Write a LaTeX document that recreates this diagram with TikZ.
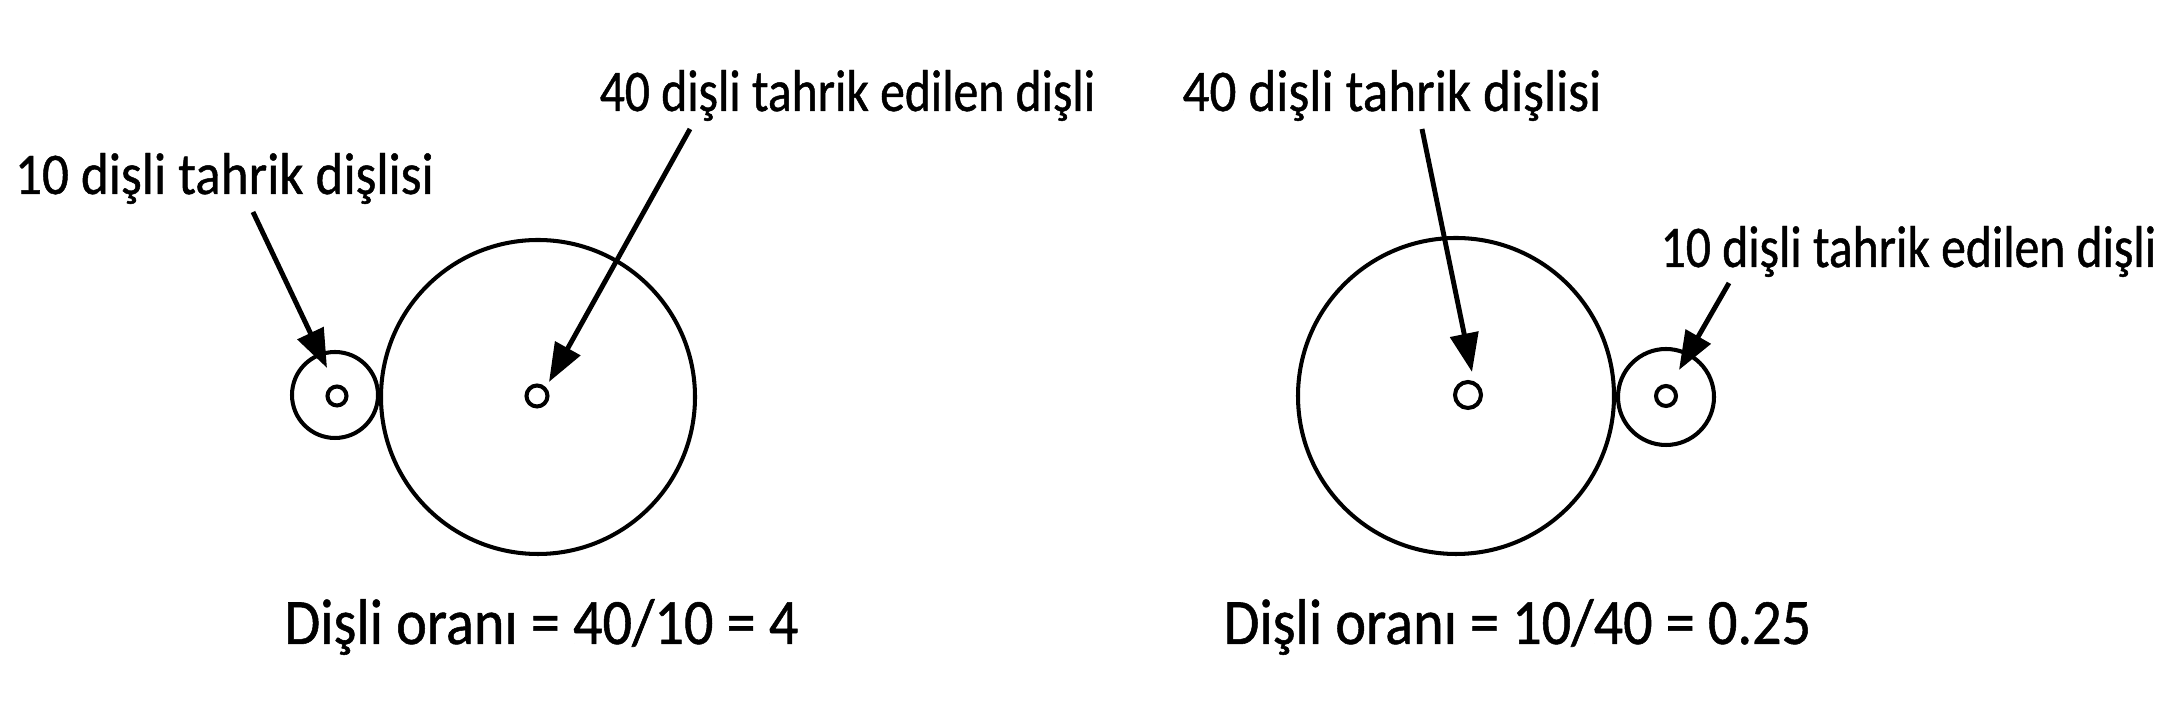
\documentclass[tikz,border=0pt]{standalone}
\usepackage{fontspec}
\setmainfont{Carlito}[FakeBold=0.8, FakeStretch=0.9]
\newfontfamily\narrowfont{Carlito}[FakeBold=0.8, FakeStretch=0.84]
\usetikzlibrary{arrows.meta}

\begin{document}
\begin{tikzpicture}[gear/.style={circle, draw, line width=1.15pt, inner sep=0pt},
  hub/.style={circle, draw, line width=1.15pt, inner sep=0pt},
  lbl/.style={anchor=base, inner sep=0pt, font=\fontsize{16.8}{19}\selectfont},
  longlbl/.style={lbl, font=\narrowfont\fontsize{16.8}{19}\selectfont},
  ratio/.style={anchor=base, inner sep=0pt, font=\fontsize{18.4}{22}\selectfont},
  pointer/.style={-{Triangle[length=11pt, width=8pt]}, line width=1.4pt}]
\useasboundingbox (0,0) rectangle (21.7,7.25);
% Gears
\node[gear, minimum size=0.86cm] (ls) at (3.35,3.30) {};
\node[hub, minimum size=0.19cm] (lsh) at (3.37,3.29) {};
\node[gear, minimum size=3.14cm] (lb) at (5.38,3.28) {};
\node[hub, minimum size=0.21cm] (lbh) at (5.37,3.29) {};
\node[gear, minimum size=3.16cm] (rb) at (14.56,3.29) {};
\node[hub, minimum size=0.26cm] (rbh) at (14.68,3.30) {};
\node[gear, minimum size=0.96cm] (rs) at (16.66,3.28) {};
\node[hub, minimum size=0.20cm] (rsh) at (16.66,3.29) {};

% Labels
\node[lbl] (t1) at (2.245,5.31) {10 dişli tahrik dişlisi};
\node[longlbl] (t2) at (8.475,6.14) {40 dişli tahrik edilen dişli};
\node[lbl] (t3) at (13.92,6.14) {40 dişli tahrik dişlisi};
\node[longlbl] (t4) at (19.085,4.58) {10 dişli tahrik edilen dişli};
\node[ratio] (o1) at (5.415,0.81) {Dişli oranı = 40/10 = 4};
\node[ratio] (o2) at (15.175,0.81) {Dişli oranı = 10/40 = 0.25};

% Arrows
\coordinate (p1) at (2.53,5.13);
\coordinate (q1) at (3.27,3.57);
\coordinate (p2) at (6.90,5.96);
\coordinate (q2) at (5.49,3.43);
\coordinate (p3) at (14.22,5.96);
\coordinate (q3) at (14.72,3.53);
\coordinate (p4) at (17.29,4.42);
\coordinate (q4) at (16.79,3.55);
\draw[pointer] (p1) -- (q1);
\draw[pointer] (p2) -- (q2);
\draw[pointer] (p3) -- (q3);
\draw[pointer] (p4) -- (q4);
\end{tikzpicture}
\end{document}
